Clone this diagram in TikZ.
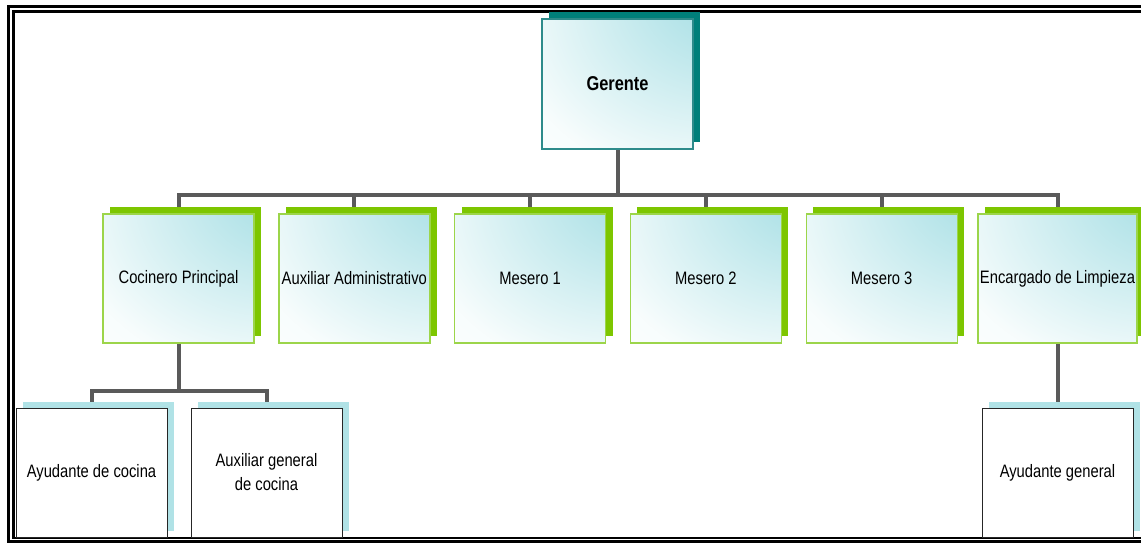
\documentclass[tikz,border=0pt]{standalone}
\usepackage{fontspec}
\setmainfont{Liberation Sans}[FakeStretch=0.82]
\usetikzlibrary{shadows,backgrounds,calc}

\definecolor{conngray}{HTML}{5A5A5A}
\definecolor{tealshadow}{HTML}{007F7A}
\definecolor{tealborder}{HTML}{2E8B8B}
\definecolor{greenshadow}{HTML}{7DC600}
\definecolor{greenborder}{HTML}{9CD54A}
\definecolor{cyanshadow}{HTML}{B0E2E6}

% light cyan glow in the upper right corner, fading to white
\pgfdeclareradialshading{boxfade}{\pgfpoint{42bp}{42bp}}{%
  rgb(0bp)=(0.69,0.89,0.91); rgb(18bp)=(0.70,0.89,0.91);
  rgb(62bp)=(0.97,0.99,0.99); rgb(80bp)=(1,1,1); rgb(160bp)=(1,1,1)}

\tikzset{
  conn/.style={line width=4pt, draw=conngray},
  framerule/.style={fill=black, draw=none},
  basebox/.style={minimum width=151pt, minimum height=129pt, inner sep=2pt, align=center,
    font=\fontsize{18}{24}\selectfont},
  topbox/.style={basebox, minimum height=130pt, draw=tealborder, line width=1.2pt,
    shading=boxfade,
    general shadow={fill=tealshadow, shadow xshift=7pt, shadow yshift=7pt},
    font=\bfseries\fontsize{20}{24}\selectfont},
  midbox/.style={basebox, draw=greenborder, line width=1.4pt,
    shading=boxfade,
    general shadow={fill=greenshadow, shadow xshift=7pt, shadow yshift=7pt}},
  lowbox/.style={basebox, draw=black!85, line width=1pt, fill=white,
    general shadow={fill=cyanshadow, shadow xshift=7pt, shadow yshift=6pt}},
}

\begin{document}
\begin{tikzpicture}[x=1pt, y=-1pt]
\useasboundingbox (0,0) rectangle (1141,543);

% double page frame, open on the right (bars drawn as filled strips)
\path[framerule] (7,5) rectangle (10,543);      % outer left
\path[framerule] (7,5) rectangle (1141,8);      % outer top
\path[framerule] (7,540) rectangle (1141,543);  % outer bottom
\path[framerule] (12,10) rectangle (15,539);    % inner left
\path[framerule] (12,10) rectangle (1141,13);   % inner top
\path[framerule] (12,536.5) rectangle (1141,539); % inner bottom

% boxes
\node[topbox] (g) at (617.5,84) {Gerente};

\node[midbox] (c1) at (178.5,278.5) {Cocinero Principal};
\node[midbox] (c2) at (354.3,278.5) {Auxiliar Administrativo};
\node[midbox] (c3) at (530.1,278.5) {Mesero 1};
\node[midbox] (c4) at (705.9,278.5) {Mesero 2};
\node[midbox] (c5) at (881.7,278.5) {Mesero 3};
\node[midbox] (c6) at (1057.5,278.5) {Encargado de Limpieza};

\node[lowbox] (d1) at (91.5,472.5) {Ayudante de cocina};
\node[lowbox] (d2) at (266.5,472.5) {Auxiliar general\\de cocina};
\node[lowbox] (d3) at (1057.5,472.5) {Ayudante general};

% connectors
\begin{scope}[on background layer]
  \coordinate (bar) at ($(g.south)+(0,45.5)$);
  \draw[conn] (g.south) -- (bar);
  \draw[conn] (c1.north) |- (bar) -| (c6.north);
  \foreach \n in {c2,c3,c4,c5} \draw[conn] (bar -| \n.north) -- (\n.north);
  \coordinate (sub) at ($(c1.south)+(0,47)$);
  \draw[conn] (c1.south) -- (sub);
  \draw[conn] (d1.north) |- (sub) -| (d2.north);
  \draw[conn] (c6.south) -- (d3.north);
\end{scope}
\end{tikzpicture}
\end{document}
